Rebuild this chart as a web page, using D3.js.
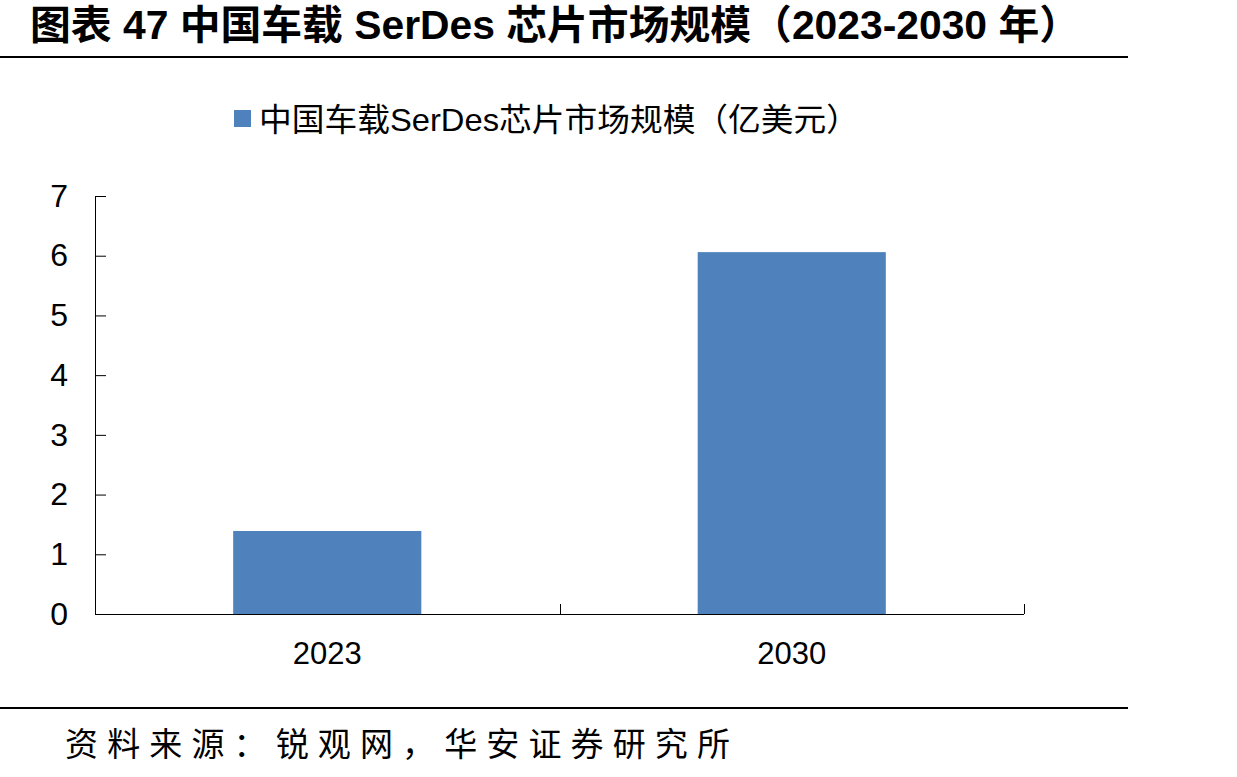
<!DOCTYPE html>
<html><head><meta charset="utf-8">
<script src="https://cdn.jsdelivr.net/npm/d3@7"></script>
<style>body{margin:0;background:#fff;}svg{display:block;}</style>
</head><body>
<script>
const categories = ["2023", "2030"];
const values = [1.39, 6.06];
const yTicks = [0, 1, 2, 3, 4, 5, 6, 7];
const seriesName = "中国车载SerDes芯片市场规模（亿美元）";
const titleText = "图表 47  中国车载 SerDes 芯片市场规模（2023-2030 年）";
const sourceText = "资料来源：锐观网，华安证券研究所";

const W = 1237, H = 777;
const svg = d3.select("body").append("svg").attr("width", W).attr("height", H);
const latin = "'Liberation Sans', Arial, 'Noto Sans CJK SC', sans-serif";

// title
svg.append("text").attr("x", 30).attr("y", 39)
  .attr("font-family", latin).attr("font-weight", "bold").attr("font-size", 40)
  .attr("textLength", 1050).attr("lengthAdjust", "spacingAndGlyphs")
  .attr("fill", "#000").text(titleText);
svg.append("line").attr("x1", 0).attr("x2", 1128).attr("y1", 57).attr("y2", 57)
  .attr("stroke", "#000").attr("stroke-width", 2);

// footer
svg.append("line").attr("x1", 0).attr("x2", 1128).attr("y1", 708).attr("y2", 708)
  .attr("stroke", "#000").attr("stroke-width", 2);
svg.append("text").attr("x", 65).attr("y", 756)
  .attr("font-family", "'Noto Sans CJK SC', sans-serif").attr("font-size", 33)
  .attr("textLength", 665).attr("lengthAdjust", "spacing")
  .attr("fill", "#000").text(sourceText);

// scales
const x = d3.scaleBand().domain(categories).range([95, 1024])
  .paddingInner(0.595).paddingOuter(0.2975);
const y = d3.scaleLinear().domain([0, 7]).range([614, 196]);

// bars
svg.append("g").selectAll("rect").data(values).join("rect")
  .attr("x", (d, i) => x(categories[i]))
  .attr("width", x.bandwidth())
  .attr("y", d => y(d))
  .attr("height", d => y(0) - y(d))
  .attr("fill", "#4F81BD");

// y axis
const gy = svg.append("g").attr("transform", "translate(95,0)")
  .call(d3.axisRight(y).tickValues(yTicks).tickSize(11).tickFormat(d3.format("d")));
gy.select(".domain").attr("stroke", "#000").attr("d", "M0.5,196V614");
gy.selectAll(".tick line").attr("stroke", "#000");
gy.selectAll(".tick text").attr("x", -27).attr("text-anchor", "end")
  .attr("font-family", latin).attr("font-size", 32).attr("fill", "#000");

// x axis
const gx = svg.append("g").attr("transform", "translate(0,614)")
  .call(d3.axisBottom(x).tickSize(0).tickPadding(0));
gx.select(".domain").attr("stroke", "#000").attr("d", "M95,0.5H1024");
gx.selectAll(".tick text").attr("y", 28)
  .attr("font-family", latin).attr("font-size", 31).attr("fill", "#000");
// boundary ticks between categories (pointing up)
const step = x.step();
const start = x(categories[0]) - x.paddingOuter() * step;
const bounds = d3.range(1, categories.length + 1).map(i => start + i * step);
gx.selectAll(".bnd").data(bounds).join("line").attr("class", "bnd")
  .attr("x1", d => Math.round(d) + 0.5).attr("x2", d => Math.round(d) + 0.5)
  .attr("y1", 0).attr("y2", -10).attr("stroke", "#000");

// legend
svg.append("rect").attr("x", 234).attr("y", 110).attr("width", 17).attr("height", 17).attr("fill", "#4F81BD");
svg.append("text").attr("x", 259).attr("y", 131)
  .attr("font-family", latin).attr("font-size", 32)
  .attr("textLength", 600).attr("lengthAdjust", "spacingAndGlyphs")
  .attr("fill", "#000").text(seriesName);
</script>
</body></html>
